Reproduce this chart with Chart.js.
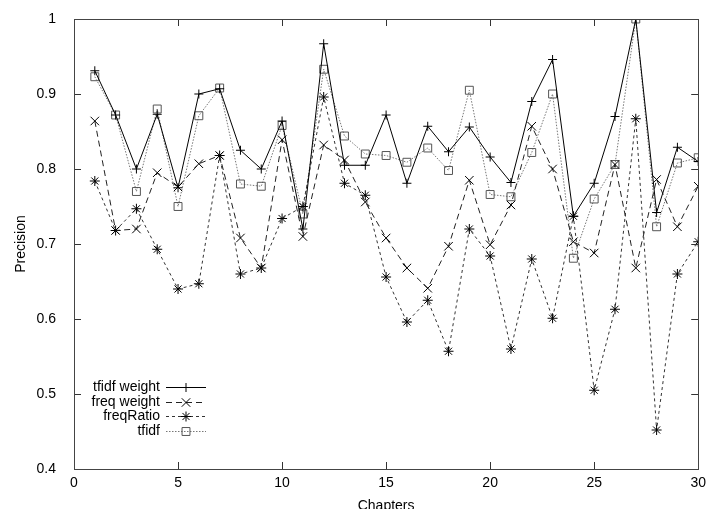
<!DOCTYPE html>
<html>
<head>
<meta charset="utf-8">
<script src="https://cdn.jsdelivr.net/npm/chart.js@4/dist/chart.umd.min.js"></script>
<style>
html,body{margin:0;padding:0;background:#fff;overflow:hidden;}
canvas{display:block;}
</style>
</head>
<body>
<canvas id="c" width="712" height="515"></canvas>
<script>
const chapters = [1,2,3,4,5,6,7,8,9,10,11,12,13,14,15,16,17,18,19,20,21,22,23,24,25,26,27,28,29,30];
const tfidfWeight = [0.931,0.872,0.800,0.873,0.775,0.900,0.907,0.825,0.800,0.864,0.720,0.967,0.805,0.805,0.872,0.781,0.857,0.823,0.856,0.816,0.782,0.890,0.946,0.737,0.781,0.870,1.000,0.742,0.829,0.810];
const freqWeight = [0.864,0.718,0.720,0.795,0.776,0.807,0.818,0.708,0.668,0.839,0.710,0.832,0.812,0.756,0.708,0.668,0.641,0.697,0.785,0.699,0.752,0.857,0.800,0.703,0.688,0.806,0.668,0.786,0.723,0.777];
const freqRatio = [0.784,0.718,0.747,0.693,0.640,0.647,0.818,0.660,0.668,0.734,0.750,0.896,0.781,0.765,0.656,0.596,0.625,0.557,0.720,0.684,0.560,0.680,0.601,0.737,0.505,0.613,0.867,0.452,0.660,0.703];
const tfidf = [0.923,0.872,0.770,0.880,0.750,0.871,0.908,0.780,0.777,0.858,0.740,0.933,0.844,0.820,0.818,0.809,0.828,0.798,0.905,0.766,0.763,0.822,0.900,0.681,0.760,0.806,1.000,0.723,0.808,0.815];
const seriesNames = ["tfidf weight","freq weight","freqRatio","tfidf"];
const xTickLabels = ["0","5","10","15","20","25","30"];
const yTickLabels = ["0.4","0.5","0.6","0.7","0.8","0.9","1"];
const xTitle = "Chapters";
const yTitle = "Precision";

const FONT = "'Liberation Sans', Arial, Helvetica, sans-serif";

function pts(arr){ return chapters.map((c,i)=>({x:c,y:arr[i]})); }

const datasets = [
  {label:seriesNames[0], data:pts(tfidfWeight), borderColor:'#000', borderWidth:1, borderDash:[],
   pointStyle:'cross', pointRadius:4.5, pointBorderColor:'#000', pointBorderWidth:1, pointBackgroundColor:'transparent'},
  {label:seriesNames[1], data:pts(freqWeight), borderColor:'#222', borderWidth:1, borderDash:[6,4],
   pointStyle:'crossRot', pointRadius:6, pointBorderColor:'#000', pointBorderWidth:1, pointBackgroundColor:'transparent'},
  {label:seriesNames[2], data:pts(freqRatio), borderColor:'#333', borderWidth:1, borderDash:[3,3],
   pointStyle:'star', pointRadius:5, pointBorderColor:'#000', pointBorderWidth:1, pointBackgroundColor:'transparent'},
  {label:seriesNames[3], data:pts(tfidf), borderColor:'#777', borderWidth:1, borderDash:[1.5,1.5],
   pointStyle:'rect', pointRadius:5.6, pointBorderColor:'#555', pointBorderWidth:1, pointBackgroundColor:'transparent'}
];
datasets.forEach(d=>{ d.fill=false; d.tension=0; d.pointHoverRadius=d.pointRadius; });

const frameTicks = {
  id:'frameTicks',
  afterDatasetsDraw(chart){
    const {ctx, chartArea:a, scales:{x,y}} = chart;
    ctx.save();
    ctx.strokeStyle = '#333';
    ctx.lineWidth = 1;
    ctx.setLineDash([]);
    ctx.beginPath();
    x.ticks.forEach(t=>{
      const px = Math.round(x.getPixelForValue(t.value))+0.5;
      ctx.moveTo(px, a.bottom); ctx.lineTo(px, a.bottom-7);
      ctx.moveTo(px, a.top); ctx.lineTo(px, a.top+7);
    });
    y.ticks.forEach(t=>{
      const py = Math.round(y.getPixelForValue(t.value))+0.5;
      ctx.moveTo(a.left, py); ctx.lineTo(a.left+7, py);
      ctx.moveTo(a.right, py); ctx.lineTo(a.right-7, py);
    });
    ctx.stroke();
    ctx.strokeStyle = '#444';
    ctx.strokeRect(Math.round(a.left)+0.5, Math.round(a.top)+0.5, Math.round(a.right-a.left), Math.round(a.bottom-a.top));
    ctx.restore();
  }
};

const gnuLegend = {
  id:'gnuLegend',
  afterDatasetsDraw(chart){
    const ctx = chart.ctx;
    const textRight = 160, lineL = 166, lineR = 206, y0 = 387, dy = 14.5;
    ctx.save();
    ctx.font = "14px " + FONT;
    ctx.textAlign = 'right';
    ctx.textBaseline = 'middle';
    chart.data.datasets.forEach((d,i)=>{
      const yy = Math.round(y0 + i*dy) + 0.5;
      ctx.fillStyle = '#000';
      ctx.fillText(d.label, textRight, yy);
      ctx.strokeStyle = d.borderColor;
      ctx.lineWidth = 1;
      ctx.setLineDash(d.borderDash);
      ctx.beginPath(); ctx.moveTo(lineL, yy); ctx.lineTo(lineR, yy); ctx.stroke();
      ctx.setLineDash([]);
      ctx.strokeStyle = d.pointBorderColor;
      ctx.fillStyle = 'rgba(0,0,0,0)';
      if (Chart.helpers && Chart.helpers.drawPoint) {
        Chart.helpers.drawPoint(ctx, {pointStyle:d.pointStyle, radius:d.pointRadius, rotation:0, borderWidth:1}, (lineL+lineR)/2, yy);
      }
    });
    ctx.restore();
  }
};

new Chart(document.getElementById('c'), {
  type:'line',
  data:{datasets},
  options:{
    responsive:false,
    animation:false,
    layout:{padding:{left:13, right:10, top:19, bottom:0}},
    plugins:{legend:{display:false}, tooltip:{enabled:false}},
    scales:{
      x:{
        type:'linear', min:0, max:30,
        afterBuildTicks(s){ s.ticks = xTickLabels.map(v=>({value:parseFloat(v)})); },
        afterFit(s){ s.height = 46; },
        grid:{display:false, drawTicks:false}, border:{display:false},
        ticks:{color:'#000', font:{family:FONT, size:14}, padding:6, maxRotation:0,
               callback:(v,i)=>xTickLabels[i]},
        title:{display:true, text:xTitle, color:'#000', font:{family:FONT, size:14}, padding:0}
      },
      y:{
        type:'linear', min:0.4, max:1,
        afterBuildTicks(s){ s.ticks = yTickLabels.map(v=>({value:parseFloat(v)})); },
        afterFit(s){ s.width = 61; },
        grid:{display:false}, border:{display:false},
        ticks:{color:'#000', font:{family:FONT, size:14}, padding:10,
               callback:(v,i)=>yTickLabels[i]},
        title:{display:true, text:yTitle, color:'#000', font:{family:FONT, size:14}, padding:0}
      }
    }
  },
  plugins:[frameTicks, gnuLegend]
});
</script>
</body>
</html>
